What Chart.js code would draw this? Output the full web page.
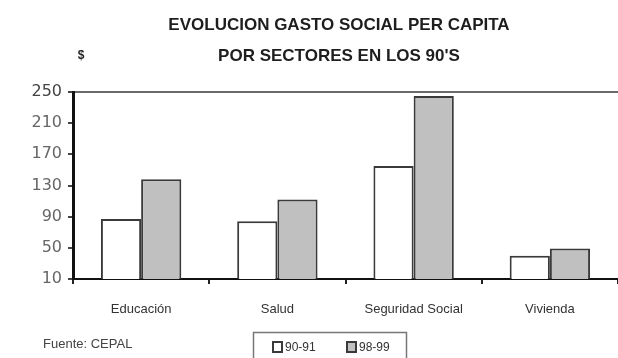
<!DOCTYPE html>
<html>
<head>
<meta charset="utf-8">
<script src="https://cdn.jsdelivr.net/npm/chart.js@4.4.0/dist/chart.umd.min.js"></script>
<style>
  html, body { margin: 0; padding: 0; background: #fff; }
  #wrap { width: 618px; height: 358px; }
</style>
</head>
<body>
<div id="wrap"><canvas id="c" width="618" height="358"></canvas></div>
<script>
// Gasto social per cápita por sector, dos períodos
const categories = ['Educación', 'Salud', 'Seguridad Social', 'Vivienda'];
const periods = ['90-91', '98-99'];
const gasto9091 = [87, 84, 155, 40];
const gasto9899 = [138, 112, 245, 49];
const yTicks = [10, 50, 90, 130, 170, 210, 250];
const titleLines = ['EVOLUCION GASTO SOCIAL PER CAPITA', "POR SECTORES EN LOS 90'S"];
const unitLabel = '$';
const sourceNote = 'Fuente: CEPAL';

// Title, unit mark, source note and a boxed legend drawn on the canvas
const annotations = {
  id: 'annotations',
  afterDraw(chart) {
    const ctx = chart.ctx;
    ctx.save();
    ctx.textBaseline = 'middle';

    ctx.fillStyle = '#1e1e1e';
    ctx.textAlign = 'center';
    ctx.font = 'bold 17px "Liberation Sans", Arial, sans-serif';
    ctx.fillText(titleLines[0], 339, 25);
    ctx.fillText(titleLines[1], 339, 56);

    ctx.font = 'bold 12px "Liberation Sans", Arial, sans-serif';
    ctx.fillText(unitLabel, 81, 56);

    ctx.textAlign = 'left';
    ctx.fillStyle = '#444';
    ctx.font = '13px "Liberation Sans", Arial, sans-serif';
    ctx.fillText(sourceNote, 43, 344);

    // legend frame
    ctx.strokeStyle = '#777';
    ctx.lineWidth = 1.5;
    ctx.strokeRect(253.5, 332.5, 153, 32);

    // legend entries
    ctx.font = '12px "Liberation Sans", Arial, sans-serif';
    const xs = [272, 346];
    chart.data.datasets.forEach((ds, i) => {
      const x = xs[i], y = 341;
      ctx.fillStyle = ds.backgroundColor;
      ctx.fillRect(x, y, 11, 12);
      ctx.strokeStyle = ds.borderColor;
      ctx.lineWidth = 2;
      ctx.strokeRect(x + 1, y + 1, 9, 10);
      ctx.fillStyle = '#333';
      ctx.fillText(ds.label, x + 13, y + 6.5);
    });
    ctx.restore();
  }
};

new Chart(document.getElementById('c'), {
  type: 'bar',
  data: {
    labels: categories,
    datasets: [
      {
        label: periods[0],
        data: gasto9091,
        backgroundColor: '#ffffff',
        borderColor: '#3a3a3a',
        borderWidth: 2,
        categoryPercentage: 0.59,
        barPercentage: 1.0
      },
      {
        label: periods[1],
        data: gasto9899,
        backgroundColor: '#c0c0c0',
        borderColor: '#3a3a3a',
        borderWidth: 2,
        categoryPercentage: 0.59,
        barPercentage: 1.0
      }
    ]
  },
  options: {
    responsive: false,
    animation: false,
    devicePixelRatio: 1,
    layout: { padding: { top: 92, left: 0, right: -3, bottom: 0 } },
    plugins: {
      legend: { display: false },
      title: { display: false },
      tooltip: { enabled: false }
    },
    scales: {
      x: {
        offset: true,
        afterFit(scale) { scale.height = 79; },
        grid: {
          offset: true,
          drawOnChartArea: false,
          drawTicks: true,
          tickLength: 5,
          tickColor: '#222',
          lineWidth: 2
        },
        border: { display: true, color: '#111', width: 2 },
        ticks: {
          padding: 18,
          color: '#333',
          font: { family: '"Liberation Sans", Arial, sans-serif', size: 13 }
        }
      },
      y: {
        min: 10,
        max: 250,
        afterFit(scale) { scale.width = 73; },
        afterBuildTicks(scale) { scale.ticks = yTicks.map(v => ({ value: v })); },
        grid: {
          drawOnChartArea: true,
          color: c => (c.tick && c.tick.value === 250 ? '#6a6a6a' : 'rgba(0,0,0,0)'),
          lineWidth: 2,
          drawTicks: true,
          tickLength: 5,
          tickColor: '#444'
        },
        border: { display: true, color: '#111', width: 3 },
        ticks: {
          padding: 6,
          color: c => (c.tick && c.tick.value === 250 ? '#444' : '#666'),
          font: { family: '"DejaVu Sans", Verdana, sans-serif', size: 16 }
        }
      }
    }
  },
  plugins: [annotations]
});
</script>
</body>
</html>
